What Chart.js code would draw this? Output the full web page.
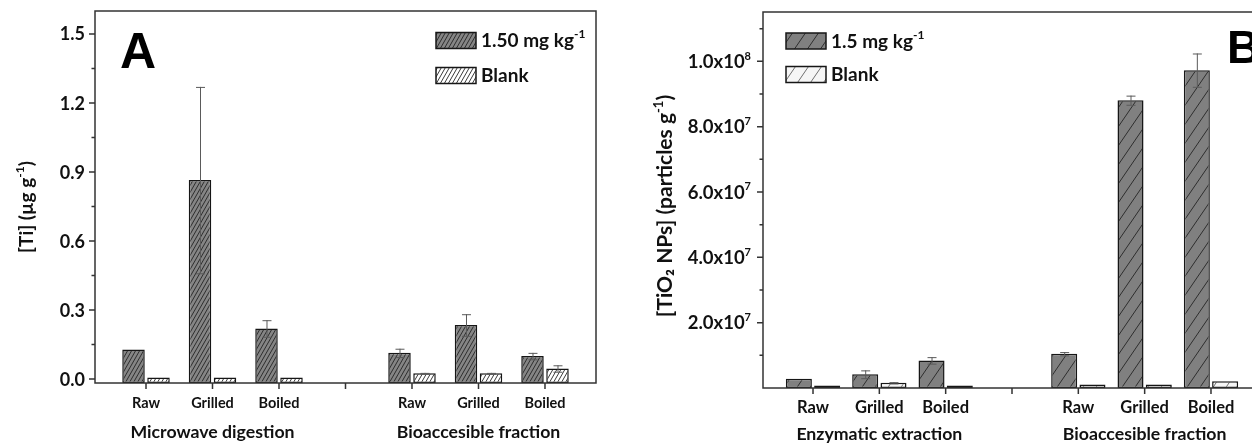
<!DOCTYPE html>
<html><head><meta charset="utf-8">
<script src="https://cdn.jsdelivr.net/npm/chart.js@4.4.1/dist/chart.umd.min.js"></script>
<style>
html,body{margin:0;padding:0;width:1252px;height:445px;overflow:hidden;background:#fff;}
#wa{position:absolute;left:0;top:0;width:620px;height:445px;}
#wb{position:absolute;left:620px;top:0;width:660px;height:445px;}
</style></head><body>
<div id="wa"><canvas id="ca" width="620" height="445"></canvas></div>
<div id="wb"><canvas id="cb" width="660" height="445"></canvas></div>
<script>
// ---------- data ----------
const tickLabels = ['Raw','Grilled','Boiled','','Raw','Grilled','Boiled'];
const tickPositions = [1,2,3,4,5,6,7];
const groupPositions = [2,6];
const groupLabelsA = ['Microwave digestion','Bioaccesible fraction'];
const groupLabelsB = ['Enzymatic extraction','Bioaccesible fraction'];

const seriesNamesA = ['1.50 mg kg^-1','Blank'];
const spikedA    = [0.129,0.865,0.220,null,0.114,0.235,0.100];
const spikedErrA = [0,    0.405,0.036,null,0.018,0.047,0.014];
const blankA     = [0.007,0.007,0.007,null,0.025,0.025,0.046];
const blankErrA  = [0,    0,    0,    null,0.002,0.002,0.014];
const yTicksA = [0,0.3,0.6,0.9,1.2,1.5];
const yTickLabelsA = ['0.0','0.3','0.6','0.9','1.2','1.5'];
const yMinorA = [0.15,0.45,0.75,1.05,1.35];
const yRangeA = [-0.017,1.6];
const yTitleA = '[Ti] (\u00b5g g^-1^)';

const seriesNamesB = ['1.5 mg kg^-1','Blank'];
const spikedB    = [2.85e6,4.2e6,8.45e6,null,1.05e7,8.81e7,9.73e7];
const spikedErrB = [0,     1.2e6,1.0e6, null,0.5e6, 1.4e6, 5.1e6];
const blankB     = [0.8e6, 1.6e6,0.8e6, null,1.1e6, 1.1e6, 2.1e6];
const blankErrB  = [0,     0.2e6,0,     null,0,     0,     0];
const yTicksB = [2e7,4e7,6e7,8e7,1e8];
const yTickLabelsB = ['2.0x10^7','4.0x10^7','6.0x10^7','8.0x10^7','1.0x10^8'];
const yMinorB = [1e7,3e7,5e7,7e7,9e7,1.1e8];
const yRangeB = [0,1.151e8];
const yTitleB = '[TiO\u2082 NPs] (particles g^-1^)';

// ---------- helpers ----------
const FONT = 'Lato, "Open Sans", sans-serif';
function hatch(bg, line, a, b, lw){
  const c=document.createElement('canvas'); c.width=a; c.height=b;
  const g=c.getContext('2d'); g.fillStyle=bg; g.fillRect(0,0,a,b);
  g.strokeStyle=line; g.lineWidth=lw; g.beginPath();
  for (const dx of [-a,0,a]) { g.moveTo(dx,b); g.lineTo(dx+a,0); }
  g.stroke();
  return g.createPattern(c,'repeat');
}
function rich(ctx, text, x, y, size, align){
  const parts = text.split('^');
  const fN = 'bold '+size+'px '+FONT, fS = 'bold '+Math.round(size*0.62)+'px '+FONT;
  let w=0;
  parts.forEach((p,i)=>{ctx.font = i%2?fS:fN; w+=ctx.measureText(p).width;});
  let sx = align==='right'? x-w : align==='center'? x-w/2 : x;
  ctx.textAlign='left'; ctx.textBaseline='alphabetic';
  parts.forEach((p,i)=>{
    ctx.font = i%2?fS:fN;
    ctx.fillText(p, sx, i%2? y-size*0.45 : y);
    sx += ctx.measureText(p).width;
  });
}

function makePanel(id, c){
  const sets = [[c.spiked,c.spikedErr],[c.blank,c.blankErr]];
  const datasets = sets.map((s,k)=>({
    label: c.names[k],
    data: s[0].map((v,i)=> v===null?null:{x:tickPositions[i], y:v}).filter(d=>d),
    errs: s[1].filter(e=>e!==null),
    backgroundColor: c.fills[k],
    borderColor:'#161616', borderWidth:c.bw, borderSkipped:false,
    base: c.yRange[0],
    categoryPercentage:c.cp, barPercentage:c.bp
  }));
  const deco = {
    id:'deco',
    afterDatasetsDraw(chart){
      const ctx=chart.ctx, ys=chart.scales.y;
      ctx.save();
      chart.data.datasets.forEach((d,k)=>{
        const meta=chart.getDatasetMeta(k);
        meta.data.forEach((el,j)=>{
          const e=d.errs[j]; if(!e) return;
          const v=d.data[j].y;
          const t=ys.getPixelForValue(v+e), b=ys.getPixelForValue(v-e);
          ctx.strokeStyle='#5a5a5a'; ctx.lineWidth=1;
          ctx.beginPath();
          ctx.moveTo(el.x+0.5,t); ctx.lineTo(el.x+0.5,b);
          ctx.moveTo(el.x-4,t+0.5); ctx.lineTo(el.x+5,t+0.5);
          ctx.moveTo(el.x-4,b+0.5); ctx.lineTo(el.x+5,b+0.5);
          ctx.stroke();
        });
      });
      ctx.restore();
    },
    afterDraw(chart){
      const ctx=chart.ctx, a=chart.chartArea, xs=chart.scales.x, ys=chart.scales.y;
      ctx.save();
      ctx.fillStyle='#111'; ctx.strokeStyle='#333'; ctx.lineWidth=1.5;
      ctx.strokeRect(a.left, a.top, a.right-a.left, a.bottom-a.top);
      ctx.beginPath();
      tickPositions.forEach(p=>{const x=xs.getPixelForValue(p); ctx.moveTo(x,a.bottom); ctx.lineTo(x,a.bottom+6);});
      c.yTicks.forEach(v=>{const y=ys.getPixelForValue(v); ctx.moveTo(a.left,y); ctx.lineTo(a.left-6,y);});
      c.yMinor.forEach(v=>{const y=ys.getPixelForValue(v); ctx.moveTo(a.left,y); ctx.lineTo(a.left-3.5,y);});
      ctx.stroke();
      c.yTicks.forEach((v,i)=>rich(ctx, c.yTickLabels[i], a.left-c.yLabGap, ys.getPixelForValue(v)+c.ySize*0.36, c.ySize, 'right'));
      tickPositions.forEach((p,i)=>rich(ctx, tickLabels[i], xs.getPixelForValue(p), a.bottom+c.xLabY, c.xSize, 'center'));
      groupPositions.forEach((p,i)=>rich(ctx, c.groups[i], xs.getPixelForValue(p), a.bottom+c.gLabY, c.gSize, 'center'));
      ctx.save(); ctx.translate(c.titleX, c.titleY); ctx.rotate(-Math.PI/2);
      rich(ctx, c.yTitle, 0, 0, c.tSize, 'center'); ctx.restore();
      c.names.forEach((n,k)=>{
        const y=c.legY[k];
        ctx.fillStyle=c.fills[k]; ctx.fillRect(c.legX, y, 40, 16);
        ctx.strokeStyle='#161616'; ctx.lineWidth=1.5; ctx.strokeRect(c.legX, y, 40, 16);
        ctx.fillStyle='#111';
        rich(ctx, n, c.legX+45, y+14.5, c.legSize, 'left');
      });
      ctx.font='bold '+c.letterSize+'px "Liberation Sans", Arial, sans-serif';
      ctx.textAlign='left'; ctx.textBaseline='alphabetic'; ctx.fillStyle='#000';
      ctx.fillText(c.letter, c.letterX, c.letterY);
      ctx.restore();
    }
  };
  return new Chart(document.getElementById(id), {
    type:'bar',
    data:{datasets},
    plugins:[deco],
    options:{
      responsive:false, animation:false,
      layout:{padding:c.pad},
      plugins:{legend:{display:false}, tooltip:{enabled:false}},
      scales:{
        x:{type:'linear', offset:false, min:c.xRange[0], max:c.xRange[1],
           afterBuildTicks:s=>{s.ticks=tickPositions.map(v=>({value:v}));},
           afterFit:s=>{s.height=c.xH;},
           ticks:{display:false}, grid:{display:false}, border:{display:false}},
        y:{type:'linear', min:c.yRange[0], max:c.yRange[1],
           afterBuildTicks:s=>{s.ticks=c.yTicks.map(v=>({value:v}));},
           afterFit:s=>{s.width=c.yW;},
           ticks:{display:false}, grid:{display:false}, border:{display:false}}
      }
    }
  });
}

makePanel('ca', {
  spiked:spikedA, spikedErr:spikedErrA, blank:blankA, blankErr:blankErrA,
  names:seriesNamesA, groups:groupLabelsA,
  yTicks:yTicksA, yTickLabels:yTickLabelsA, yMinor:yMinorA, yRange:yRangeA, yTitle:yTitleA,
  fills:[hatch('#858585','#2e2e2e',4,7,1), hatch('#ffffff','#3a3a3a',4,7,1)],
  bw:1.5, cp:0.752, bp:0.9,
  xRange:[0.233,7.767], pad:{left:0,top:11,right:24,bottom:0}, xH:62, yW:95,
  yLabGap:10, ySize:18, xSize:14.5, xLabY:25, gSize:17.7, gLabY:55,
  titleX:33, titleY:207, tSize:19,
  legX:436, legY:[32.5,67.5], legSize:19,
  letter:'A', letterX:120, letterY:68, letterSize:50
});
makePanel('cb', {
  spiked:spikedB, spikedErr:spikedErrB, blank:blankB, blankErr:blankErrB,
  names:seriesNamesB, groups:groupLabelsB,
  yTicks:yTicksB, yTickLabels:yTickLabelsB, yMinor:yMinorB, yRange:yRangeB, yTitle:yTitleB,
  fills:[hatch('#808080','#2e2e2e',13,19,1), hatch('#f6f6f6','#707070',13,19,1)],
  bw:1.5, cp:0.853, bp:0.92,
  xRange:[0.246,7.754], pad:{left:0,top:12,right:19,bottom:0}, xH:57, yW:143,
  yLabGap:12, ySize:18.5, xSize:16.5, xLabY:25, gSize:17.7, gLabY:52,
  titleX:52, titleY:206, tSize:21,
  legX:166, legY:[33,66.5], legSize:19,
  letter:'B', letterX:607, letterY:63, letterSize:46
});
</script>
</body></html>
